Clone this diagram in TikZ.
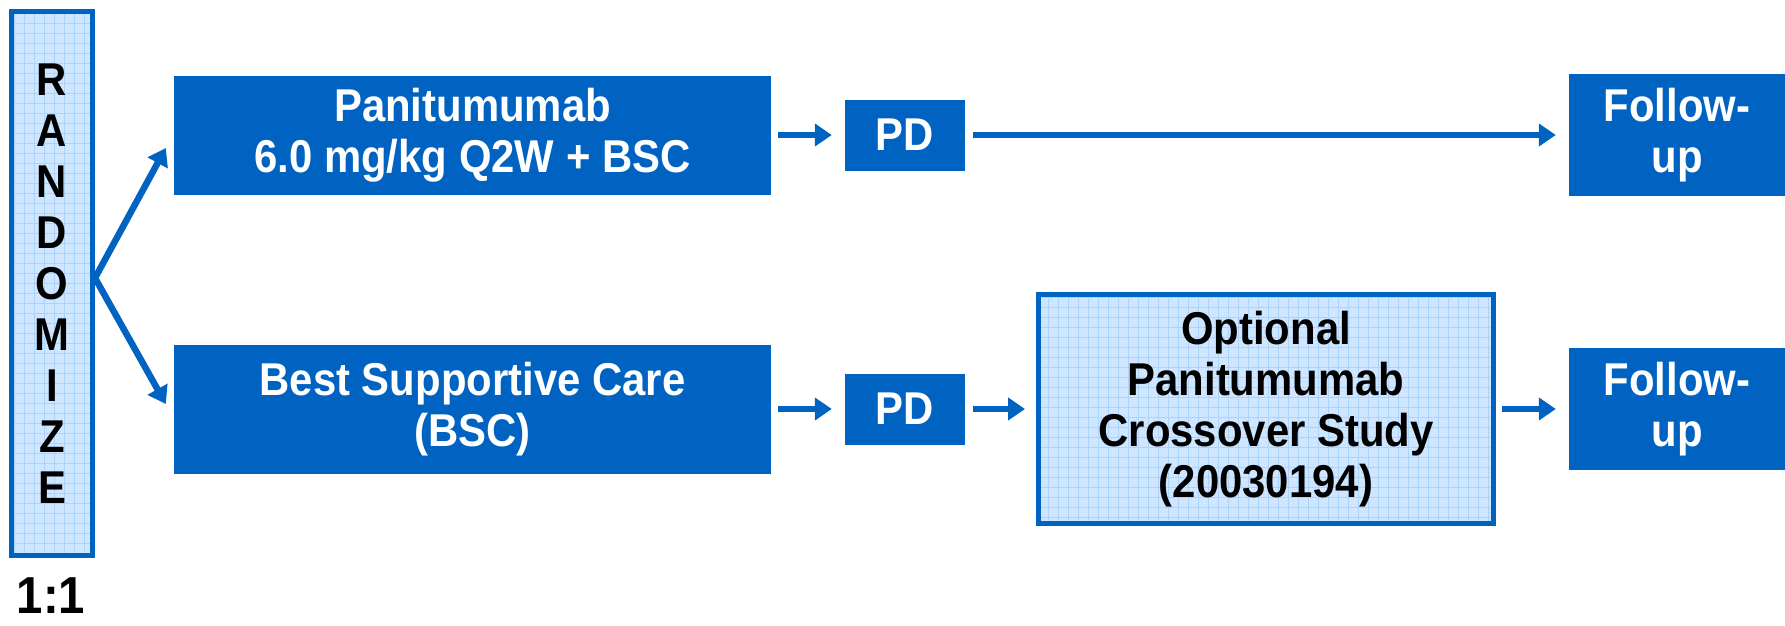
\documentclass[tikz,border=0pt]{standalone}
\usepackage{fontspec}
\setmainfont{Liberation Sans}[FakeStretch=0.91]
\usetikzlibrary{arrows.meta}
\definecolor{trialblue}{RGB}{0,99,193}
\definecolor{paleblue}{RGB}{206,230,255}
\definecolor{gridblue}{RGB}{172,212,250}
\tikzset{
  boxfont/.style={font=\fontsize{46}{51}\selectfont\bfseries},
  darkbox/.style={fill=trialblue, text=white, inner sep=0pt, align=center, boxfont},
  gridbox/.style={draw=trialblue, line width=5pt, fill=paleblue, inner sep=0pt,
    align=center, boxfont,
    path picture={\draw[gridblue, line width=0.7pt]
      (path picture bounding box.south west) grid[step=10pt]
      (path picture bounding box.north east);}},
  arr/.style={trialblue, line width=6.5pt, -{Triangle[length=17pt,width=22pt]}}
}
\begin{document}
\begin{tikzpicture}[x=1pt,y=-1pt]
\useasboundingbox (0,0) rectangle (1785,626);
% randomisation column
\node[gridbox, minimum width=81pt, minimum height=544pt] (rnd) at (52,283.5)
  {R\\A\\N\\D\\O\\M\\I\\Z\\E};
\node[inner sep=0pt, font=\fontsize{52}{58}\selectfont\bfseries] (ratio) at (51,596) {1:1};
% arms
\node[darkbox, minimum width=597pt, minimum height=119pt] (pan) at (472.5,135)
  {Panitumumab\\6.0 mg/kg Q2W + BSC};
\node[darkbox, minimum width=597pt, minimum height=129pt] (bsc) at (472.5,409)
  {Best Supportive Care\\(BSC)};
\node[darkbox, minimum width=120pt, minimum height=71pt] (pd1) at (905,135) {PD};
\node[darkbox, minimum width=120pt, minimum height=71pt] (pd2) at (905,409) {PD};
\node[gridbox, minimum width=455pt, minimum height=229pt] (cross) at (1266,409)
  {Optional\\Panitumumab\\Crossover Study\\(20030194)};
\node[darkbox, minimum width=216pt, minimum height=122pt] (fu1) at (1677,135) {Follow-\\up};
\node[darkbox, minimum width=216pt, minimum height=122pt] (fu2) at (1677,409) {Follow-\\up};
% connectors
\coordinate (fork) at ([yshift=5.5pt]rnd.east);
\coordinate (tipA) at ([xshift=-8pt,yshift=-13pt]pan.west);
\coordinate (tipB) at ([xshift=-8pt,yshift=5pt]bsc.west);
\draw[arr] (fork) -- (tipA);
\draw[arr] (fork) -- (tipB);
\draw[arr, shorten <=7pt, shorten >=13pt] (pan.east) -- (pd1.west);
\draw[arr, shorten <=8pt, shorten >=13pt] (pd1.east) -- (fu1.west);
\draw[arr, shorten <=7pt, shorten >=13pt] (bsc.east) -- (pd2.west);
\draw[arr, shorten <=8pt, shorten >=11pt] (pd2.east) -- (cross.west);
\draw[arr, shorten <=6pt, shorten >=13pt] (cross.east) -- (fu2.west);
\end{tikzpicture}
\end{document}
